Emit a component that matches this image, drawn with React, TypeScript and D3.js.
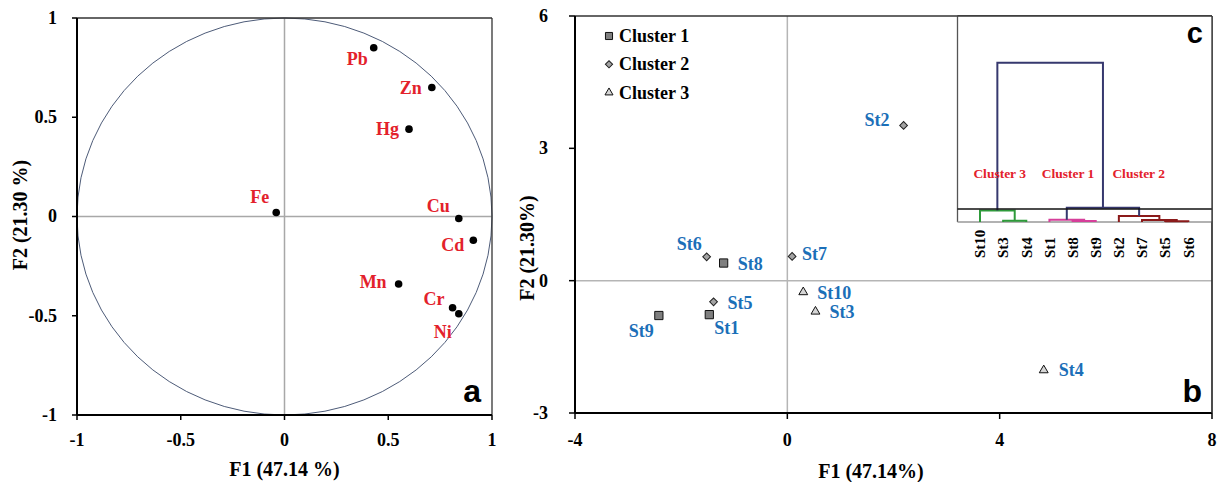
import { scaleLinear, scalePoint, symbol, symbolSquare, symbolTriangle } from "d3";

// Panel a: loadings on F1/F2
const variables = ["Pb", "Zn", "Hg", "Fe", "Cu", "Cd", "Mn", "Cr", "Ni"];
const f1Loadings = [0.43, 0.71, 0.6, -0.04, 0.84, 0.91, 0.55, 0.81, 0.84];
const f2Loadings = [0.85, 0.65, 0.44, 0.02, -0.01, -0.12, -0.34, -0.46, -0.49];
const loadingTicks = [-1, -0.5, 0, 0.5, 1];

// Panel b: station scores
const stations = ["St1", "St2", "St3", "St4", "St5", "St6", "St7", "St8", "St9", "St10"];
const f1Scores = [-1.47, 2.19, 0.53, 4.83, -1.39, -1.52, 0.09, -1.2, -2.42, 0.3];
const f2Scores = [-0.77, 3.52, -0.7, -2.03, -0.48, 0.54, 0.55, 0.4, -0.79, -0.26];
const stationCluster = [1, 2, 3, 3, 2, 2, 2, 1, 1, 3];
const clusterNames = ["Cluster 1", "Cluster 2", "Cluster 3"];
const scoreXTicks = [-4, 0, 4, 8];
const scoreYTicks = [-3, 0, 3, 6];

// Panel c: dendrogram
const dendroLeaves = ["St10", "St3", "St4", "St1", "St8", "St9", "St2", "St7", "St5", "St6"];
const dendroMerges = [
  { id: "m0", a: "St3", b: "St4", h: 0.8, group: "c3" },
  { id: "m1", a: "St10", b: "m0", h: 7.2, group: "c3" },
  { id: "m2", a: "St8", b: "St9", h: 0.6, group: "c1" },
  { id: "m3", a: "St1", b: "m2", h: 1.4, group: "c1" },
  { id: "m4", a: "St5", b: "St6", h: 0.4, group: "c2" },
  { id: "m5", a: "St7", b: "m4", h: 1.3, group: "c2" },
  { id: "m6", a: "St2", b: "m5", h: 3.8, group: "c2" },
  { id: "m7", a: "m3", b: "m6", h: 9.0, group: "root" },
  { id: "m8", a: "m1", b: "m7", h: 100, group: "root" },
];
const dendroClusterLabels = ["Cluster 3", "Cluster 1", "Cluster 2"];

const SERIF = "'Liberation Serif', 'Times New Roman', serif";
const SANS = "'Liberation Sans', Arial, sans-serif";
const RED = "#e3212b";
const BLUE = "#1b6fb8";
const groupColor: Record<string, string> = { c1: "#d63f9a", c2: "#8b1a1a", c3: "#2e9a3a", root: "#36386e" };

// label offsets from the marker (dx, dy)
const varLabelPos: Record<string, [number, number]> = {
  Pb: [-6, 17], Zn: [-10, 7], Hg: [-10, 6], Fe: [-7, -10], Cu: [-9, -6],
  Cd: [-9, 11], Mn: [-12, 4], Cr: [-8, -3], Ni: [-7, 24],
};
const stLabelPos: Record<string, [number, number, "start" | "end"]> = {
  St1: [5, 19, "start"], St2: [-14, 1, "end"], St3: [14, 6, "start"], St4: [15, 6, "start"],
  St5: [14, 7, "start"], St6: [-5, -7, "end"], St7: [10, 4, "start"], St8: [14, 7, "start"],
  St9: [-5, 21, "end"], St10: [14, 7, "start"],
};
const clusterLabelX = [999.7, 1068, 1138.7];

const squarePath = symbol(symbolSquare, 68)()!;
const diamondPath = symbol(symbolSquare, 30)()!;
const trianglePath = symbol(symbolTriangle, 34)()!;
const smallSquare = symbol(symbolSquare, 50)()!;
const smallDiamond = symbol(symbolSquare, 26)()!;
const smallTriangle = symbol(symbolTriangle, 28)()!;

function Marker({ cluster, x, y, small }: { cluster: number; x: number; y: number; small?: boolean }) {
  if (cluster === 1)
    return <path d={small ? smallSquare : squarePath} transform={`translate(${x},${y})`} fill="#7f7f7f" stroke="#111" strokeWidth={1} />;
  if (cluster === 2)
    return <path d={small ? smallDiamond : diamondPath} transform={`translate(${x},${y}) rotate(45)`} fill="#a3a3a3" stroke="#222" strokeWidth={1} />;
  return <path d={small ? smallTriangle : trianglePath} transform={`translate(${x},${y})`} fill="#d6d6d6" stroke="#111" strokeWidth={1} />;
}

export default function App() {
  // Panel a scales
  const xA = scaleLinear().domain([-1, 1]).range([77, 492]);
  const yA = scaleLinear().domain([-1, 1]).range([415, 18]);
  // Panel b scales
  const xB = scaleLinear().domain([-4, 8]).range([575, 1212]);
  const yB = scaleLinear().domain([-3, 6]).range([413, 16]);
  // Dendrogram scales
  const xD = scalePoint<string>().domain(dendroLeaves).range([980, 1188.3]);
  const yD = scaleLinear().domain([0, 100]).range([222, 62.7]);

  const nodePos: Record<string, [number, number]> = {};
  dendroLeaves.forEach((l) => (nodePos[l] = [xD(l)!, yD(0)]));
  const dendroPaths = dendroMerges.map((m) => {
    const [xa, ya] = nodePos[m.a];
    const [xb, yb] = nodePos[m.b];
    const yh = yD(m.h);
    nodePos[m.id] = [(xa + xb) / 2, yh];
    return { d: `M${xa},${ya}V${yh}H${xb}V${yb}`, color: groupColor[m.group] };
  });

  return (
    <svg width={1228} height={482} style={{ position: "absolute", left: 0, top: 0, background: "#fff" }} fontFamily={SERIF}>
      {/* ---------- Panel a ---------- */}
      <g>
        <line x1={xA(-1)} x2={xA(1)} y1={yA(0)} y2={yA(0)} stroke="#a8a8a8" strokeWidth={1.5} />
        <line x1={xA(0)} x2={xA(0)} y1={yA(1)} y2={yA(-1)} stroke="#a8a8a8" strokeWidth={1.5} />
        <ellipse cx={xA(0)} cy={yA(0)} rx={xA(1) - xA(0)} ry={yA(0) - yA(1)} fill="none" stroke="#4d5b78" strokeWidth={1} />
        <line x1={xA(-1)} x2={xA(1)} y1={yA(1)} y2={yA(1)} stroke="#333" strokeWidth={1.3} />
        <line x1={xA(1)} x2={xA(1)} y1={yA(1)} y2={yA(-1)} stroke="#333" strokeWidth={1.3} />
        <line x1={xA(-1)} x2={xA(-1)} y1={yA(1)} y2={yA(-1)} stroke="#000" strokeWidth={2} />
        <line x1={xA(-1)} x2={xA(1)} y1={yA(-1)} y2={yA(-1)} stroke="#000" strokeWidth={2} />
        {loadingTicks.map((t) => (
          <g key={`ax${t}`}>
            <line x1={xA(t)} x2={xA(t)} y1={yA(-1)} y2={yA(-1) + 5} stroke="#000" strokeWidth={1.5} />
            <text x={xA(t)} y={446} textAnchor="middle" fontSize={18} fontWeight="bold">{String(t)}</text>
            <line x1={xA(-1) - 5} x2={xA(-1)} y1={yA(t)} y2={yA(t)} stroke="#000" strokeWidth={1.5} />
            <text x={57} y={yA(t)} dy="0.33em" textAnchor="end" fontSize={18} fontWeight="bold">{String(t)}</text>
          </g>
        ))}
        <text x={284.5} y={476} textAnchor="middle" fontSize={20} fontWeight="bold">F1 (47.14 %)</text>
        <text transform="translate(27,215) rotate(-90)" textAnchor="middle" fontSize={20} fontWeight="bold">F2 (21.30 %)</text>
        {variables.map((v, i) => {
          const x = xA(f1Loadings[i]);
          const y = yA(f2Loadings[i]);
          const [dx, dy] = varLabelPos[v];
          return (
            <g key={v}>
              <circle cx={x} cy={y} r={3.8} fill="#000" />
              <text x={x + dx} y={y + dy} textAnchor="end" fontSize={18} fontWeight="bold" fill={RED}>{v}</text>
            </g>
          );
        })}
        <text x={481} y={402} textAnchor="end" fontFamily={SANS} fontWeight="bold" fontSize={32}>a</text>
      </g>

      {/* ---------- Panel b ---------- */}
      <g>
        <line x1={xB(-4)} x2={xB(8)} y1={yB(0)} y2={yB(0)} stroke="#b5b5b5" strokeWidth={1.5} />
        <line x1={xB(0)} x2={xB(0)} y1={yB(6)} y2={yB(-3)} stroke="#b5b5b5" strokeWidth={1.5} />
        <line x1={xB(-4)} x2={xB(8)} y1={yB(6)} y2={yB(6)} stroke="#333" strokeWidth={1.3} />
        <line x1={xB(8)} x2={xB(8)} y1={yB(6)} y2={yB(-3)} stroke="#333" strokeWidth={1.3} />
        <line x1={xB(-4)} x2={xB(-4)} y1={yB(6)} y2={yB(-3)} stroke="#000" strokeWidth={2} />
        <line x1={xB(-4)} x2={xB(8)} y1={yB(-3)} y2={yB(-3)} stroke="#000" strokeWidth={2} />
        {scoreXTicks.map((t) => (
          <g key={`bx${t}`}>
            <line x1={xB(t)} x2={xB(t)} y1={yB(-3)} y2={yB(-3) + 6} stroke="#000" strokeWidth={1.5} />
            <text x={xB(t)} y={446} textAnchor="middle" fontSize={18} fontWeight="bold">{t}</text>
          </g>
        ))}
        {scoreYTicks.map((t) => (
          <g key={`by${t}`}>
            <line x1={xB(-4) - 6} x2={xB(-4)} y1={yB(t)} y2={yB(t)} stroke="#000" strokeWidth={1.5} />
            <text x={548} y={yB(t)} dy="0.33em" textAnchor="end" fontSize={18} fontWeight="bold">{t}</text>
          </g>
        ))}
        <text x={871} y={478} textAnchor="middle" fontSize={20} fontWeight="bold">F1 (47.14%)</text>
        <text transform="translate(534,248) rotate(-90)" textAnchor="middle" fontSize={20} fontWeight="bold">F2 (21.30%)</text>

        {/* legend */}
        {clusterNames.map((c, i) => (
          <g key={c}>
            <Marker cluster={i + 1} x={609} y={36 + i * 28.3} small />
            <text x={619} y={41.5 + i * 28.5} fontSize={18} fontWeight="bold">{c}</text>
          </g>
        ))}

        {stations.map((s, i) => {
          const x = xB(f1Scores[i]);
          const y = yB(f2Scores[i]);
          const [dx, dy, anchor] = stLabelPos[s];
          return (
            <g key={s}>
              <Marker cluster={stationCluster[i]} x={x} y={y} />
              <text x={x + dx} y={y + dy} textAnchor={anchor} fontSize={18} fontWeight="bold" fill={BLUE}>{s}</text>
            </g>
          );
        })}
        <text x={1202} y={402} textAnchor="end" fontFamily={SANS} fontWeight="bold" fontSize={32}>b</text>
      </g>

      {/* ---------- Panel c (inset dendrogram) ---------- */}
      <g>
        <rect x={957.5} y={16} width={1212 - 957.5} height={222 - 16} fill="#fff" />
        <line x1={957.5} x2={957.5} y1={16} y2={222} stroke="#555" strokeWidth={1.3} />
        <line x1={957.5} x2={1212} y1={16} y2={16} stroke="#333" strokeWidth={1.3} />
        <line x1={957.5} x2={1212} y1={222} y2={222} stroke="#999" strokeWidth={1.5} />
        {dendroPaths.map((p, i) => (
          <path key={i} d={p.d} fill="none" stroke={p.color} strokeWidth={2} />
        ))}
        <line x1={957.5} x2={1212} y1={209} y2={209} stroke="#111" strokeWidth={1.5} />
        {dendroLeaves.map((l) => (
          <text key={l} transform={`translate(${xD(l)},258) rotate(-90)`} dy="0.35em" textAnchor="start" fontSize={15} fontWeight="bold">{l}</text>
        ))}
        {dendroClusterLabels.map((c, i) => (
          <text key={c} x={clusterLabelX[i]} y={178} textAnchor="middle" fontSize={13.5} fontWeight="bold" fill={RED}>{c}</text>
        ))}
        <text x={1203} y={43} textAnchor="end" fontFamily={SANS} fontWeight="bold" fontSize={29}>c</text>
        <line x1={xB(8)} x2={xB(8)} y1={16} y2={yB(-3)} stroke="#333" strokeWidth={1.3} />
      </g>
    </svg>
  );
}
